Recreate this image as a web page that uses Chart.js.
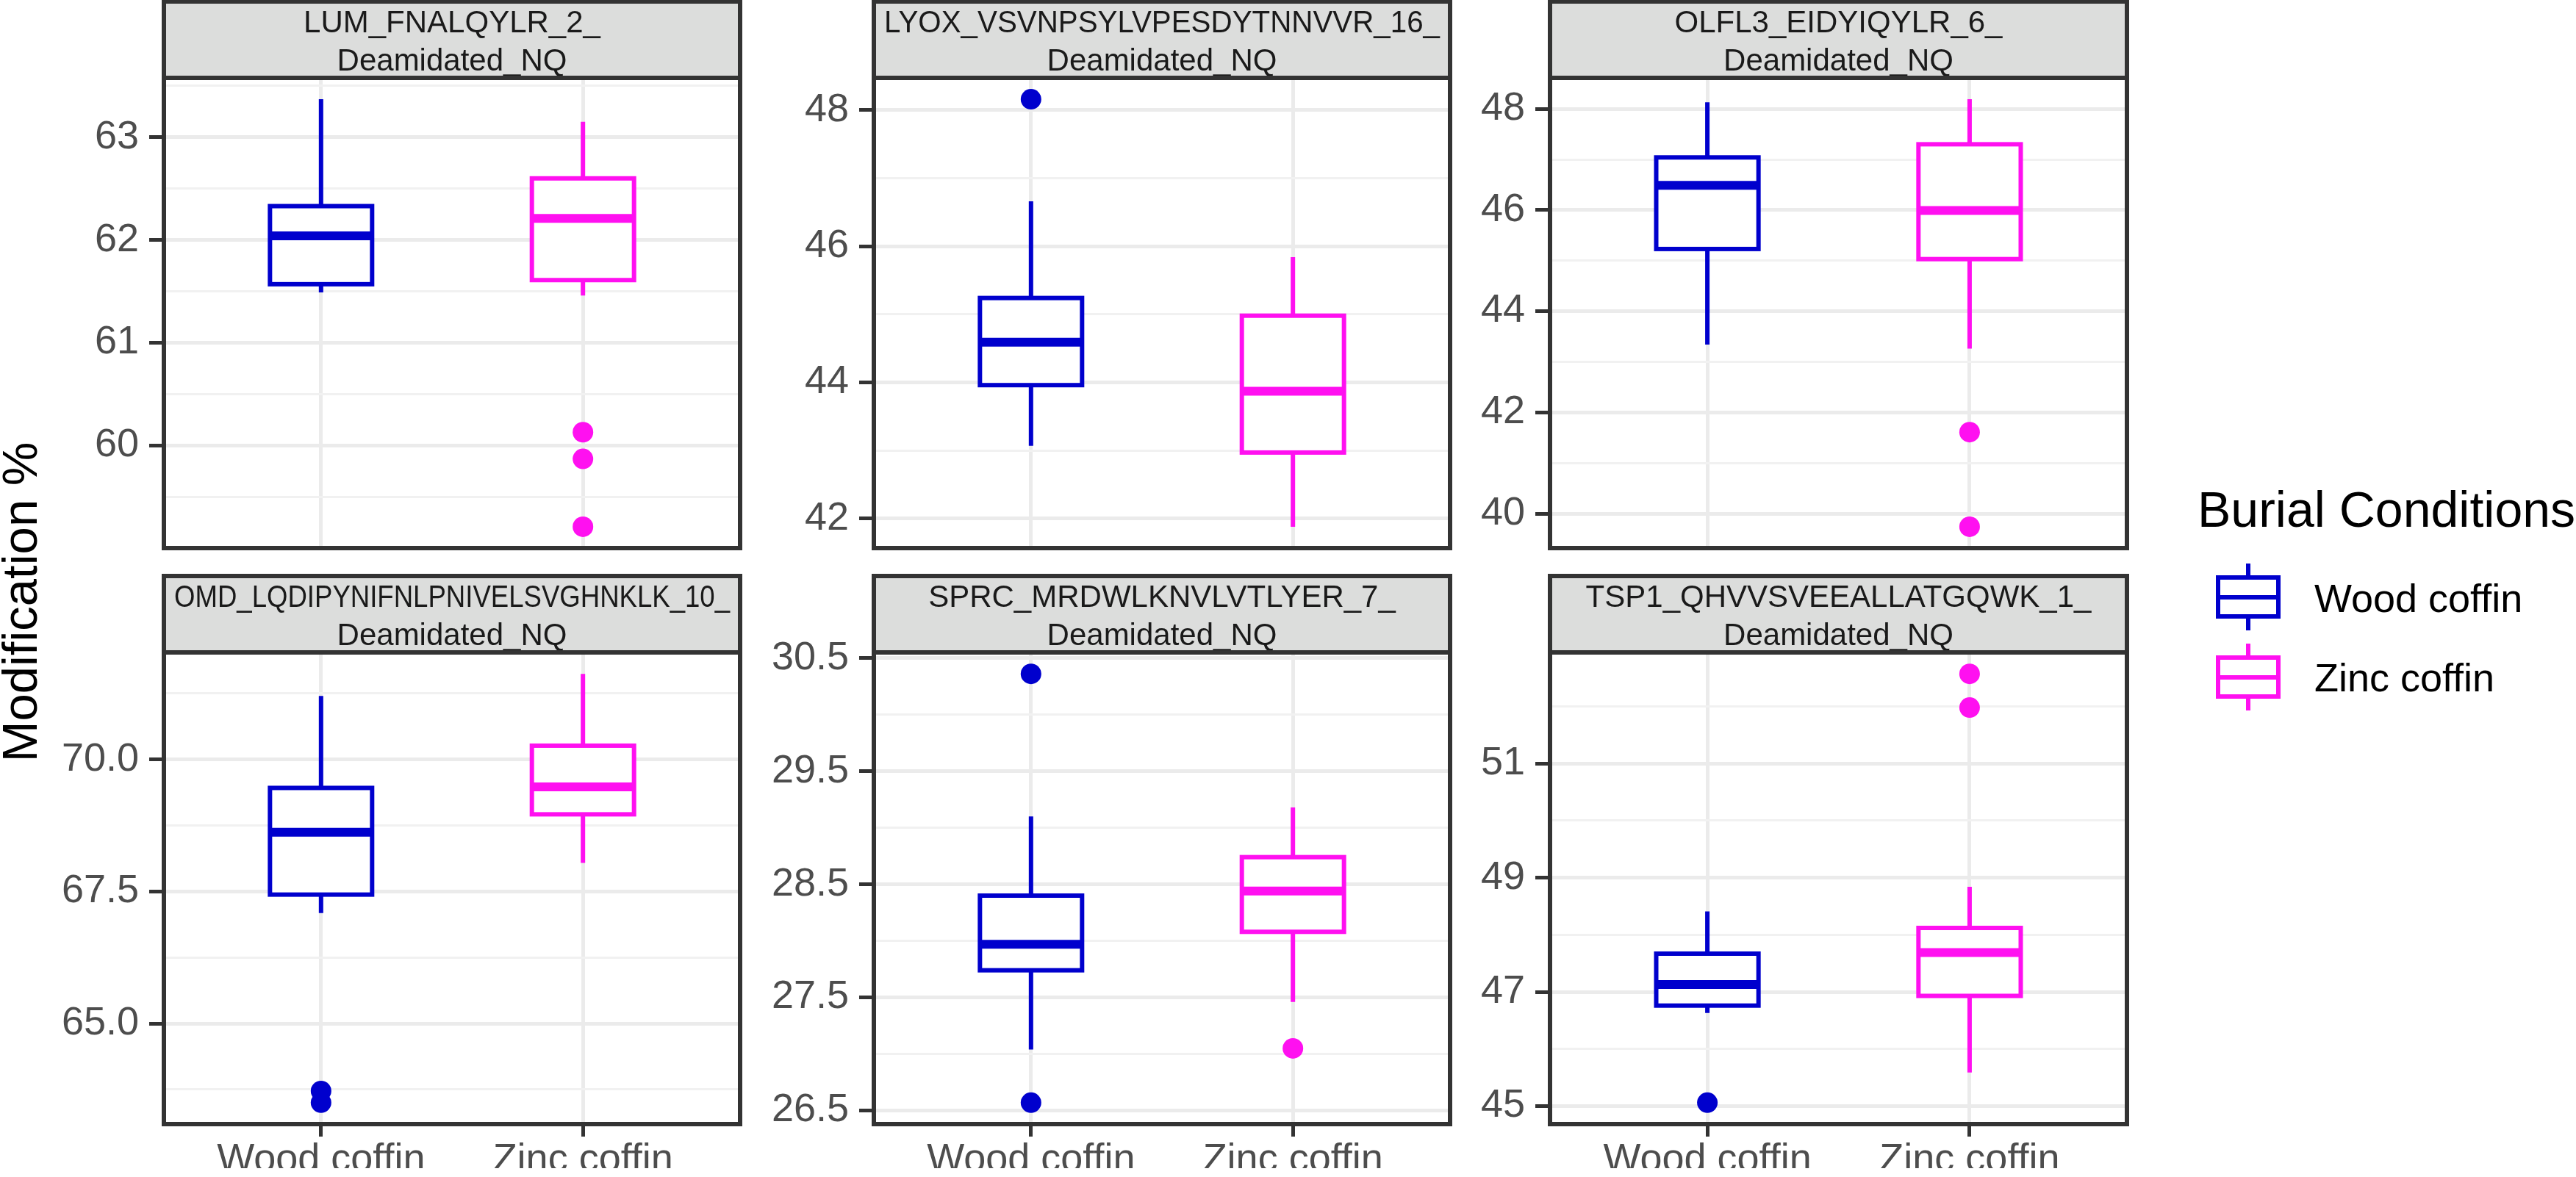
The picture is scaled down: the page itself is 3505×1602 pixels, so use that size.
<!DOCTYPE html>
<html>
<head>
<meta charset="utf-8">
<title>Deamidation by burial condition</title>
<script src="https://cdn.jsdelivr.net/npm/chart.js@4.4.1/dist/chart.umd.min.js"></script>
<style>
  html, body { margin: 0; padding: 0; background: #fff; }
  body { width: 3505px; height: 1602px; position: relative; overflow: hidden;
         font-family: 'Liberation Sans', Arial, Helvetica, sans-serif; }
  canvas { position: absolute; }
  .abs { position: absolute; white-space: nowrap; }
  #ytitle { left: -274px; top: 786px; width: 600px; height: 67px; line-height: 67px;
            font-size: 67px; color: #000; text-align: center; transform: rotate(-90deg); }
  .ltitle { font-size: 68px; line-height: 68px; color: #000; }
  .llabel { font-size: 54px; line-height: 54px; color: #000; }
  .key { width: 88px; height: 91px; }
  .key .wh { position: absolute; left: 41px; top: 0; width: 6px; height: 91px; }
  .key .bx { position: absolute; left: 0; top: 16px; width: 88px; height: 59px;
             box-sizing: border-box; border: 6px solid; background: #fff; }
  .key .md { position: absolute; left: 0; top: 43px; width: 88px; height: 6px; }
</style>
</head>
<body>

<div id="ytitle" class="abs">Modification %</div>

<div class="abs ltitle" style="left:2990px; top:659px;">Burial Conditions</div>
<div class="abs key" style="left:3015px; top:767px;">
  <div class="wh" style="background:#0000CD"></div>
  <div class="bx" style="border-color:#0000CD"></div>
  <div class="md" style="background:#0000CD"></div>
</div>
<div class="abs llabel" style="left:3149px; top:787px;">Wood coffin</div>
<div class="abs key" style="left:3015px; top:876px;">
  <div class="wh" style="background:#FF10F0"></div>
  <div class="bx" style="border-color:#FF10F0"></div>
  <div class="md" style="background:#FF10F0"></div>
</div>
<div class="abs llabel" style="left:3149px; top:895px;">Zinc coffin</div>

<script>
// Groups on the x axis
const groups = ['Wood coffin', 'Zinc coffin'];
const groupColors = ['#0000CD', '#FF10F0'];

// Facet strip titles (two lines each)
const peptides = [
    ['LUM_FNALQYLR_2_', 'Deamidated_NQ'],
    ['LYOX_VSVNPSYLVPESDYTNNVVR_16_', 'Deamidated_NQ'],
    ['OLFL3_EIDYIQYLR_6_', 'Deamidated_NQ'],
    ['OMD_LQDIPYNIFNLPNIVELSVGHNKLK_10_', 'Deamidated_NQ'],
    ['SPRC_MRDWLKNVLVTLYER_7_', 'Deamidated_NQ'],
    ['TSP1_QHVVSVEEALLATGQWK_1_', 'Deamidated_NQ']
];

// [lower whisker, Q1, median, Q3, upper whisker]
const woodStats = [
    [61.49, 61.57, 62.04, 62.33, 63.37],
    [43.07, 43.96, 44.59, 45.24, 46.66],
    [43.34, 45.23, 46.49, 47.04, 48.13],
    [67.09, 67.44, 68.62, 69.46, 71.20],
    [27.04, 27.74, 27.97, 28.40, 29.10],
    [46.63, 46.76, 47.13, 47.67, 48.41]
];
const zincStats = [
    [61.46, 61.61, 62.21, 62.60, 63.15],
    [41.88, 42.97, 43.87, 44.98, 45.84],
    [43.26, 45.03, 45.99, 47.30, 48.19],
    [68.04, 68.96, 69.48, 70.26, 71.62],
    [27.46, 28.08, 28.44, 28.74, 29.18],
    [45.59, 46.93, 47.69, 48.12, 48.84]
];

// Outlier points
const woodOutliers = [[], [48.16], [], [63.72, 63.50], [30.36, 26.57], [45.06]];
const zincOutliers = [[60.13, 59.87, 59.21], [], [41.61, 39.74], [], [27.05], [52.57, 51.98]];

// Y axis ticks per panel
const yTickValues = [
    [60, 61, 62, 63],
    [42, 44, 46, 48],
    [40, 42, 44, 46, 48],
    [65, 67.5, 70],
    [26.5, 27.5, 28.5, 29.5, 30.5],
    [45, 47, 49, 51]
];
const yTickLabels = [
    ['60', '61', '62', '63'],
    ['42', '44', '46', '48'],
    ['40', '42', '44', '46', '48'],
    ['65.0', '67.5', '70.0'],
    ['26.5', '27.5', '28.5', '29.5', '30.5'],
    ['45', '47', '49', '51']
];

// Page layout (pixels)
const colLeft = [223, 1189, 2109];
const colRight = [1013, 1979, 2900];
const axisWidth = [150, 150, 120];
const rowTop = [0, 770];
const rowPlotTop = [106, 888];
const rowPlotBottom = [747, 1530];
const rowHeight = [760, 832];
const padRight = 8;
const stripHeight = 104;
const boxWidth = 0.39;

Chart.defaults.font.family = "'Liberation Sans', Arial, Helvetica, sans-serif";
Chart.defaults.color = '#4D4D4D';

// ggplot style range: data extent plus 5% each side
function yRange(p) {
    let all = woodStats[p].concat(zincStats[p], woodOutliers[p], zincOutliers[p]);
    let lo = Math.min(...all);
    let hi = Math.max(...all);
    let pad = (hi - lo) * 0.05;
    return [lo - pad, hi + pad];
}

function isMajor(p, v) {
    return yTickValues[p].some(t => Math.abs(t - v) < 1e-9);
}

function allYTicks(p, lo, hi) {
    let major = yTickValues[p];
    let step = major[1] - major[0];
    let ticks = major.slice();
    ticks.push(major[0] - step / 2);
    major.forEach(m => ticks.push(m + step / 2));
    return ticks.filter(v => v >= lo && v <= hi).sort((a, b) => a - b);
}

function yLabel(p, v) {
    let i = yTickValues[p].findIndex(t => Math.abs(t - v) < 1e-9);
    return i < 0 ? '' : yTickLabels[p][i];
}

// Boxes, whiskers and medians through the chart scales, plus strip and frame
const boxPlotPlugin = {
    id: 'boxPlot',
    beforeDatasetsDraw(chart, args, opts) {
        const p = opts.panel;
        const xs = chart.scales.x;
        const ys = chart.scales.y;
        const ctx = chart.ctx;
        ctx.save();
        [woodStats[p], zincStats[p]].forEach((s, g) => {
            let cx = xs.getPixelForValue(g + 1);
            let x0 = xs.getPixelForValue(g + 1 - boxWidth / 2);
            let x1 = xs.getPixelForValue(g + 1 + boxWidth / 2);
            let yLo = ys.getPixelForValue(s[0]);
            let yQ1 = ys.getPixelForValue(s[1]);
            let yMed = ys.getPixelForValue(s[2]);
            let yQ3 = ys.getPixelForValue(s[3]);
            let yHi = ys.getPixelForValue(s[4]);
            ctx.strokeStyle = groupColors[g];
            ctx.lineCap = 'butt';
            ctx.lineJoin = 'miter';
            ctx.lineWidth = 6;
            ctx.beginPath();
            ctx.moveTo(cx, yHi);
            ctx.lineTo(cx, yQ3);
            ctx.moveTo(cx, yQ1);
            ctx.lineTo(cx, yLo);
            ctx.stroke();
            ctx.fillStyle = '#FFFFFF';
            ctx.fillRect(x0, yQ3, x1 - x0, yQ1 - yQ3);
            ctx.strokeRect(x0, yQ3, x1 - x0, yQ1 - yQ3);
            ctx.lineWidth = 12;
            ctx.beginPath();
            ctx.moveTo(x0, yMed);
            ctx.lineTo(x1, yMed);
            ctx.stroke();
        });
        ctx.restore();
    },
    afterDraw(chart, args, opts) {
        const p = opts.panel;
        const a = chart.chartArea;
        const ctx = chart.ctx;
        const top = a.top - stripHeight;
        const width = a.right - a.left;
        ctx.save();
        ctx.fillStyle = '#DCDDDC';
        ctx.fillRect(a.left, top, width, stripHeight);
        ctx.strokeStyle = '#333333';
        ctx.lineWidth = 6;
        ctx.strokeRect(a.left, top, width, stripHeight);
        ctx.fillStyle = '#1A1A1A';
        ctx.font = "42px 'Liberation Sans', Arial, sans-serif";
        ctx.textAlign = 'center';
        ctx.textBaseline = 'middle';
        let cx = (a.left + a.right) / 2;
        // long peptide names get squeezed to fit the strip, as in the original
        ctx.fillText(peptides[p][0], cx, top + 30, width - 28);
        ctx.fillText(peptides[p][1], cx, top + 82, width - 28);
        ctx.strokeRect(a.left, a.top, width, a.bottom - a.top);
        ctx.restore();
    }
};

for (let p = 0; p < 6; p++) {
    let col = p % 3;
    let row = Math.floor(p / 3);
    let w = axisWidth[col] + colRight[col] - colLeft[col] + padRight;
    let h = rowHeight[row];
    let xAxisHeight = row === 1 ? 60 : 0;

    let canvas = document.createElement('canvas');
    canvas.width = w;
    canvas.height = h;
    canvas.style.left = (colLeft[col] - axisWidth[col]) + 'px';
    canvas.style.top = rowTop[row] + 'px';
    canvas.style.width = w + 'px';
    canvas.style.height = h + 'px';
    document.body.appendChild(canvas);

    let [yMin, yMax] = yRange(p);

    new Chart(canvas.getContext('2d'), {
        type: 'scatter',
        data: {
            datasets: [
                {
                    label: groups[0],
                    data: woodOutliers[p].map(v => ({ x: 1, y: v })),
                    backgroundColor: groupColors[0],
                    borderWidth: 0,
                    pointRadius: 14
                },
                {
                    label: groups[1],
                    data: zincOutliers[p].map(v => ({ x: 2, y: v })),
                    backgroundColor: groupColors[1],
                    borderWidth: 0,
                    pointRadius: 14
                }
            ]
        },
        plugins: [boxPlotPlugin],
        options: {
            responsive: false,
            animation: false,
            devicePixelRatio: 1,
            events: [],
            layout: {
                padding: {
                    top: rowPlotTop[row] - rowTop[row],
                    bottom: h - (rowPlotBottom[row] - rowTop[row]) - xAxisHeight,
                    left: 0,
                    right: padRight
                }
            },
            plugins: {
                legend: { display: false },
                tooltip: { enabled: false },
                boxPlot: { panel: p }
            },
            scales: {
                x: {
                    type: 'linear',
                    position: 'bottom',
                    min: 0.4,
                    max: 2.6,
                    afterBuildTicks: s => { s.ticks = [{ value: 1 }, { value: 2 }]; },
                    afterFit: s => {
                        s.height = xAxisHeight;
                        s.paddingLeft = 0;
                        s.paddingRight = 0;
                    },
                    border: { display: false },
                    grid: {
                        color: '#EBEBEB',
                        lineWidth: 5,
                        drawTicks: row === 1,
                        tickLength: 17,
                        tickWidth: 5,
                        tickColor: '#333333'
                    },
                    ticks: {
                        display: row === 1,
                        autoSkip: false,
                        maxRotation: 0,
                        padding: 0,
                        font: { size: 54 },
                        color: '#4D4D4D',
                        callback: v => groups[v - 1]
                    }
                },
                y: {
                    type: 'linear',
                    position: 'left',
                    min: yMin,
                    max: yMax,
                    bounds: 'data',
                    afterBuildTicks: s => {
                        s.ticks = allYTicks(p, yMin, yMax).map(v => ({ value: v }));
                    },
                    // fixed axis width, and no extra room for label overhang
                    afterFit: s => {
                        s.width = axisWidth[col];
                        s.paddingTop = 0;
                        s.paddingBottom = 0;
                    },
                    border: { display: false },
                    grid: {
                        color: c => isMajor(p, c.tick.value) ? '#EBEBEB' : '#F1F1F1',
                        lineWidth: c => isMajor(p, c.tick.value) ? 5 : 3,
                        tickLength: 20,
                        tickWidth: 5,
                        tickColor: c => isMajor(p, c.tick.value) ? '#333333' : 'rgba(0,0,0,0)'
                    },
                    ticks: {
                        autoSkip: false,
                        padding: 14,
                        font: { size: 54 },
                        color: '#4D4D4D',
                        callback: v => yLabel(p, v)
                    }
                }
            }
        }
    });
}
</script>
</body>
</html>
